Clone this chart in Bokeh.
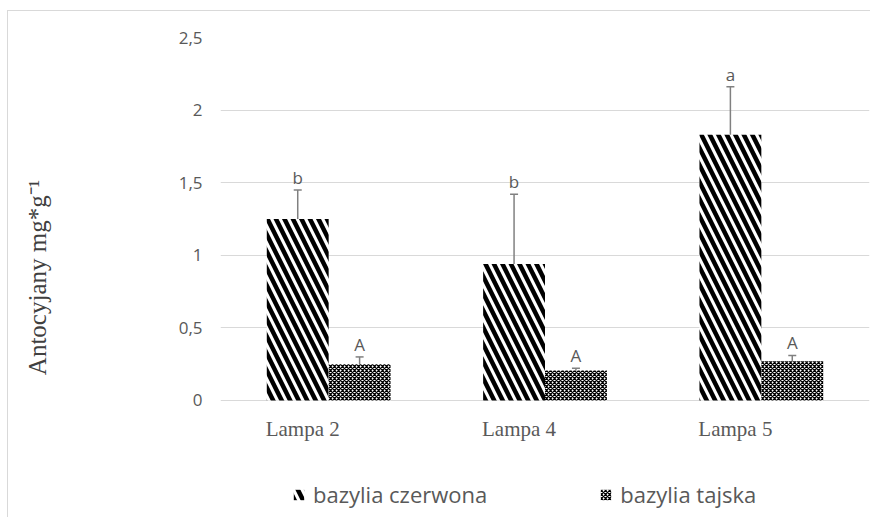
from bokeh.plotting import figure
from bokeh.models import (ColumnDataSource, Range1d, FixedTicker, Whisker, TeeHead,
                          Legend, LegendItem)
from bokeh.core.properties import value
from bokeh.embed import file_html
from bokeh.resources import INLINE

# ---- data ----
categories = ["Lampa 2", "Lampa 4", "Lampa 5"]
series = ["bazylia czerwona", "bazylia tajska"]
czerwona = [1.25, 0.94, 1.83]
czerwona_err = [0.20, 0.48, 0.33]
tajska = [0.25, 0.207, 0.27]
tajska_err = [0.05, 0.015, 0.04]
czerwona_letters = ["b", "b", "a"]
tajska_letters = ["A", "A", "A"]
y_ticks = [0, 0.5, 1, 1.5, 2, 2.5]
y_tick_labels = ["0", "0,5", "1", "1,5", "2", "2,5"]
y_label = "Antocyjany mg*g\u207b\u00b9"

# ---- layout helpers ----
BAR_W = 0.286
LABEL_SHIFT = -0.12
GREY_TXT = "#595959"

def make_source(vals, errs, letters, side):
    xs = [i + 0.5 + side * BAR_W / 2 for i in range(len(vals))]
    return ColumnDataSource(dict(
        x=xs, top=vals,
        upper=[v + e for v, e in zip(vals, errs)],
        lower=[v - e for v, e in zip(vals, errs)],
        letter=letters,
    ))

src_c = make_source(czerwona, czerwona_err, czerwona_letters, -1)
src_t = make_source(tajska, tajska_err, tajska_letters, +1)
src_cat = ColumnDataSource(dict(
    x=[i + 0.5 + LABEL_SHIFT for i in range(len(categories))],
    y=[0] * len(categories),
    label=categories,
))

# the plot frame reaches down to the bottom so that category names and the
# legend (drawn inside it) are not clipped; gridlines only at 0..2.5
p = figure(width=870, height=517, output_backend="svg", toolbar_location=None,
           x_range=Range1d(0, len(categories)), y_range=Range1d(-0.806, 2.5),
           x_axis_location=None,
           min_border_left=220, min_border_right=1, min_border_top=37,
           min_border_bottom=0)
p.outline_line_color = None
p.background_fill_color = "white"
p.border_fill_alpha = 0
p.styles = {"background": "linear-gradient(#d9d9d9,#d9d9d9) 7px 10px / 1px 100% no-repeat, "
                          "linear-gradient(#d9d9d9,#d9d9d9) 7px 10px / 100% 1px no-repeat, white"}

# y axis
p.yaxis.ticker = FixedTicker(ticks=y_ticks)
p.yaxis.major_label_overrides = {t: l for t, l in zip(y_ticks, y_tick_labels)}
p.yaxis.axis_line_color = None
p.yaxis.major_tick_line_color = None
p.yaxis.minor_tick_line_color = None
p.yaxis.major_label_standoff = 12
p.yaxis.major_label_text_font = "Open Sans"
p.yaxis.major_label_text_font_size = "17px"
p.yaxis.major_label_text_color = GREY_TXT
p.yaxis.axis_label = y_label
p.yaxis.axis_label_standoff = 125
p.yaxis.axis_label_text_font = "Liberation Serif"
p.yaxis.axis_label_text_font_size = "25px"
p.yaxis.axis_label_text_font_style = "normal"
p.yaxis.axis_label_text_color = "#404040"

p.xgrid.grid_line_color = None
p.ygrid.grid_line_color = "#d9d9d9"
p.ygrid.grid_line_width = 1

# category names under the bars
p.text(x="x", y="y", text="label", source=src_cat, text_align="center",
       text_baseline="top", y_offset=17,
       text_font=value("Liberation Serif"), text_font_size="21px",
       text_color=GREY_TXT)

# bars
r_c = p.vbar(x="x", top="top", width=BAR_W, source=src_c, fill_color="white",
             line_color=None, hatch_pattern="\\", hatch_color="black",
             hatch_scale=17, hatch_weight=4.5)
r_t = p.vbar(x="x", top="top", width=BAR_W, source=src_t, fill_color="white",
             line_color=None, hatch_pattern="x", hatch_color="black",
             hatch_scale=4, hatch_weight=1.3)

# error bars and letters
for src in (src_c, src_t):
    w = Whisker(source=src, base="x", upper="upper", lower="lower",
                line_color="#808080", line_width=1.5,
                upper_head=TeeHead(size=8, line_color="#808080", line_width=1.5),
                lower_head=TeeHead(size=8, line_color="#808080", line_width=1.5))
    p.add_layout(w)
    p.text(x="x", y="upper", text="letter", source=src, text_align="center",
           text_baseline="bottom", y_offset=-1,
           text_font=value("Open Sans"), text_font_size="17px",
           text_color=GREY_TXT)

# legend
legend = Legend(items=[LegendItem(label=series[0], renderers=[r_c]),
                       LegendItem(label=series[1], renderers=[r_t])],
                location=(72, 8), orientation="horizontal",
                glyph_width=13, glyph_height=13, label_standoff=8,
                spacing=112, padding=0, margin=0,
                border_line_color=None, background_fill_alpha=0,
                label_text_font="Open Sans", label_text_font_size="22px",
                label_text_color=GREY_TXT)
p.add_layout(legend, "center")

open("out.html", "w").write(file_html(p, INLINE))
